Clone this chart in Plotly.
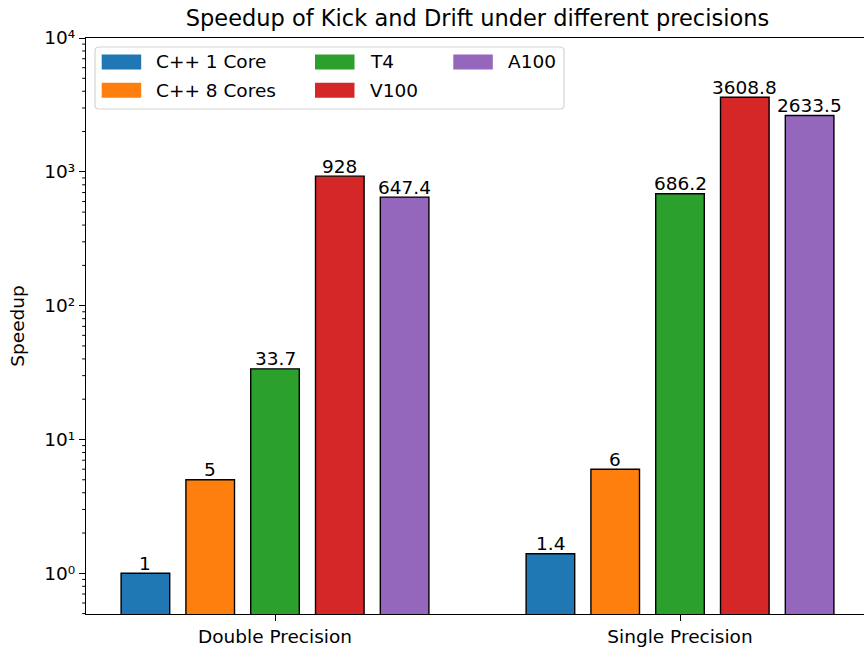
import numpy as np
import plotly.graph_objects as go

# Data
groups = ["Double Precision", "Single Precision"]
series = ["C++ 1 Core", "C++ 8 Cores", "T4", "V100", "A100"]
double_precision = [1, 5, 33.7, 928, 647.4]
single_precision = [1.4, 6, 686.2, 3608.8, 2633.5]
colors = ["#1f77b4", "#ff7f0e", "#2ca02c", "#d62728", "#9467bd"]
ytick_vals = [1, 10, 100, 1000, 10000]
ytick_text = ["10⁰", "10¹", "10²", "10³", "10⁴"]
yminor_vals = [m * 10.0 ** k for k in range(-1, 4) for m in range(2, 10)]

W, H = 864, 649
ML, MR, MT, MB = 86, 0, 38, 35
PW, PH = W - ML - MR, H - MT - MB
FONT = "DejaVu Sans"
FS = 18.5
TXT = "black"
YRANGE = [-0.304, 4.0]

bar_step = 0.16
bar_width = 0.12
group_pos = np.arange(len(groups))

fig = go.Figure()
annotations = []
for i, name in enumerate(series):
    vals = [double_precision[i], single_precision[i]]
    off = (i - (len(series) - 1) / 2) * bar_step
    xs = group_pos + off
    fig.add_trace(go.Bar(
        x=xs,
        y=vals,
        width=bar_width,
        name=name,
        marker=dict(color=colors[i], line=dict(color="black", width=1.4)),
        showlegend=False,
    ))
    # value labels just above each bar (log axis -> annotation y in log10 units)
    for xv, v in zip(xs, vals):
        annotations.append(dict(xref="x", yref="y", x=float(xv), y=float(np.log10(v)),
                                text=f"{v:g}", showarrow=False, xanchor="center",
                                yanchor="bottom", yshift=-2.5,
                                font=dict(family=FONT, size=FS, color=TXT)))


def px_x(p):
    return (p - ML) / PW


def px_y(p):
    return (H - MB - p) / PH


def log_to_paper(v):
    return (np.log10(v) - YRANGE[0]) / (YRANGE[1] - YRANGE[0])


shapes = []

# Minor log ticks on the left spine
for v in yminor_vals:
    yp = float(log_to_paper(v))
    if 0 <= yp <= 1:
        shapes.append(dict(type="line", xref="paper", yref="paper",
                           x0=-3.8 / PW, x1=0, y0=yp, y1=yp,
                           line=dict(color="black", width=1)))

# Legend frame (rounded corners)
r = 4
lx0, lx1, ly0, ly1 = 95, 564, 47, 109
path = (f"M {px_x(lx0 + r)},{px_y(ly0)} L {px_x(lx1 - r)},{px_y(ly0)} "
        f"Q {px_x(lx1)},{px_y(ly0)} {px_x(lx1)},{px_y(ly0 + r)} "
        f"L {px_x(lx1)},{px_y(ly1 - r)} Q {px_x(lx1)},{px_y(ly1)} {px_x(lx1 - r)},{px_y(ly1)} "
        f"L {px_x(lx0 + r)},{px_y(ly1)} Q {px_x(lx0)},{px_y(ly1)} {px_x(lx0)},{px_y(ly1 - r)} "
        f"L {px_x(lx0)},{px_y(ly0 + r)} Q {px_x(lx0)},{px_y(ly0)} {px_x(lx0 + r)},{px_y(ly0)} Z")
shapes.append(dict(type="path", xref="paper", yref="paper", path=path,
                   fillcolor="rgba(255,255,255,0.8)", line=dict(color="#d4d4d4", width=1.2)))

col_x = [101.7, 315, 453.3]
row_y = [62, 90.3]
sw_w, sw_h = 39.5, 15
for i, name in enumerate(series):
    c, rr = divmod(i, 2)
    sx, sy = col_x[c], row_y[rr]
    shapes.append(dict(type="rect", xref="paper", yref="paper",
                       x0=px_x(sx), x1=px_x(sx + sw_w),
                       y0=px_y(sy + sw_h / 2), y1=px_y(sy - sw_h / 2),
                       fillcolor=colors[i], line=dict(width=0)))
    annotations.append(dict(xref="paper", yref="paper", x=px_x(sx + sw_w + 13), y=px_y(sy),
                            xanchor="left", yanchor="middle", text=name, showarrow=False,
                            font=dict(family=FONT, size=FS, color=TXT)))

fig.update_layout(
    width=W, height=H,
    margin=dict(l=ML, r=MR, t=MT, b=MB),
    paper_bgcolor="white", plot_bgcolor="white",
    barmode="overlay",
    font=dict(family=FONT, size=FS, color=TXT),
    title=dict(text="Speedup of Kick and Drift under different precisions",
               x=px_x(477.5), xref="paper", xanchor="center",
               y=1 - 18 / H, yref="container", yanchor="middle",
               font=dict(family=FONT, size=22.5, color=TXT)),
    shapes=shapes,
    annotations=annotations,
)

fig.update_xaxes(
    range=[-0.4667, 1.4543],
    tickvals=list(group_pos), ticktext=groups,
    ticks="outside", ticklen=6, tickwidth=1.3, tickcolor="black",
    showline=True, linecolor="black", linewidth=1.4, mirror=True,
    showgrid=False, zeroline=False,
    tickfont=dict(family=FONT, size=FS, color=TXT),
)
fig.update_yaxes(
    type="log",
    range=YRANGE,
    tickmode="array", tickvals=ytick_vals, ticktext=ytick_text,
    ticks="outside", ticklen=6, tickwidth=1.3, tickcolor="black",
    showline=True, linecolor="black", linewidth=1.4,
    showgrid=False, zeroline=False,
    tickfont=dict(family=FONT, size=FS, color=TXT),
    title=dict(text="Speedup", font=dict(family=FONT, size=FS, color=TXT), standoff=14),
)

fig.write_html("out.html")
